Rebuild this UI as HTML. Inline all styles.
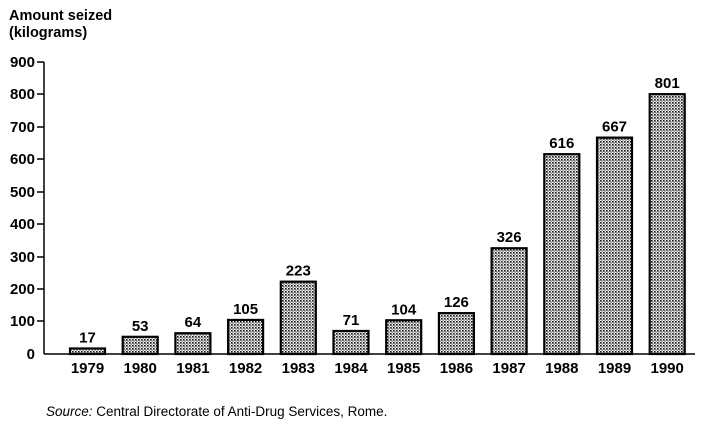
<!DOCTYPE html>
<html><head><style>
body{margin:0;background:#fff;}
svg{display:block;font-family:"Liberation Sans",Arial,sans-serif;}
</style></head><body>
<svg width="711" height="428" viewBox="0 0 711 428">
<defs>
<pattern id="d" width="3" height="3" patternUnits="userSpaceOnUse">
<rect width="3" height="3" fill="#fff"/>
<rect x="0" y="0" width="1.6" height="1.6" fill="#111"/>
<rect x="1.5" y="1.5" width="1.2" height="1.2" fill="#333"/>
</pattern>
</defs>
<text x="9" y="20" font-size="14.5" font-weight="bold" fill="#000">Amount seized</text>
<text x="9" y="37" font-size="14.5" font-weight="bold" fill="#000">(kilograms)</text>
<g font-size="15" font-weight="bold" fill="#000" text-anchor="end">
<text x="35" y="67">900</text><text x="35" y="99">800</text><text x="35" y="132">700</text>
<text x="35" y="164">600</text><text x="35" y="197">500</text><text x="35" y="229">400</text>
<text x="35" y="262">300</text><text x="35" y="294">200</text><text x="35" y="326">100</text>
<text x="35" y="359">0</text>
</g>
<g stroke="#000" stroke-width="1.5">
<line x1="44" y1="62" x2="44" y2="354"/>
<line x1="44" y1="354" x2="695" y2="354"/>
<line x1="37" y1="62" x2="44" y2="62"/><line x1="37" y1="94" x2="44" y2="94"/>
<line x1="37" y1="127" x2="44" y2="127"/><line x1="37" y1="159" x2="44" y2="159"/>
<line x1="37" y1="192" x2="44" y2="192"/><line x1="37" y1="224" x2="44" y2="224"/>
<line x1="37" y1="257" x2="44" y2="257"/><line x1="37" y1="289" x2="44" y2="289"/>
<line x1="37" y1="321" x2="44" y2="321"/>
</g>
<g id="bars" stroke="#000" stroke-width="2.2" fill="url(#d)"></g>
<g id="labs" font-size="15" font-weight="bold" text-anchor="middle"></g>
<g id="yrs" font-size="15" font-weight="bold" text-anchor="middle"></g>
<text x="46" y="416" font-size="13.5"><tspan font-style="italic">Source:</tspan> Central Directorate of Anti-Drug Services, Rome.</text>
</svg>
<script>
var v=[17,53,64,105,223,71,104,126,326,616,667,801],ns="http://www.w3.org/2000/svg";
var b=document.getElementById('bars'),l=document.getElementById('labs'),y=document.getElementById('yrs');
v.forEach(function(val,i){var x=70+i*52.7,h=val*0.3244,t=354-h;
var r=document.createElementNS(ns,'rect');r.setAttribute('x',x);r.setAttribute('y',t);r.setAttribute('width',35);r.setAttribute('height',h);b.appendChild(r);
var a=document.createElementNS(ns,'text');a.setAttribute('x',x+17.5);a.setAttribute('y',t-6);a.textContent=val;l.appendChild(a);
var c=document.createElementNS(ns,'text');c.setAttribute('x',x+17.5);c.setAttribute('y',373);c.textContent=1979+i;y.appendChild(c);});
</script>
</body></html>
